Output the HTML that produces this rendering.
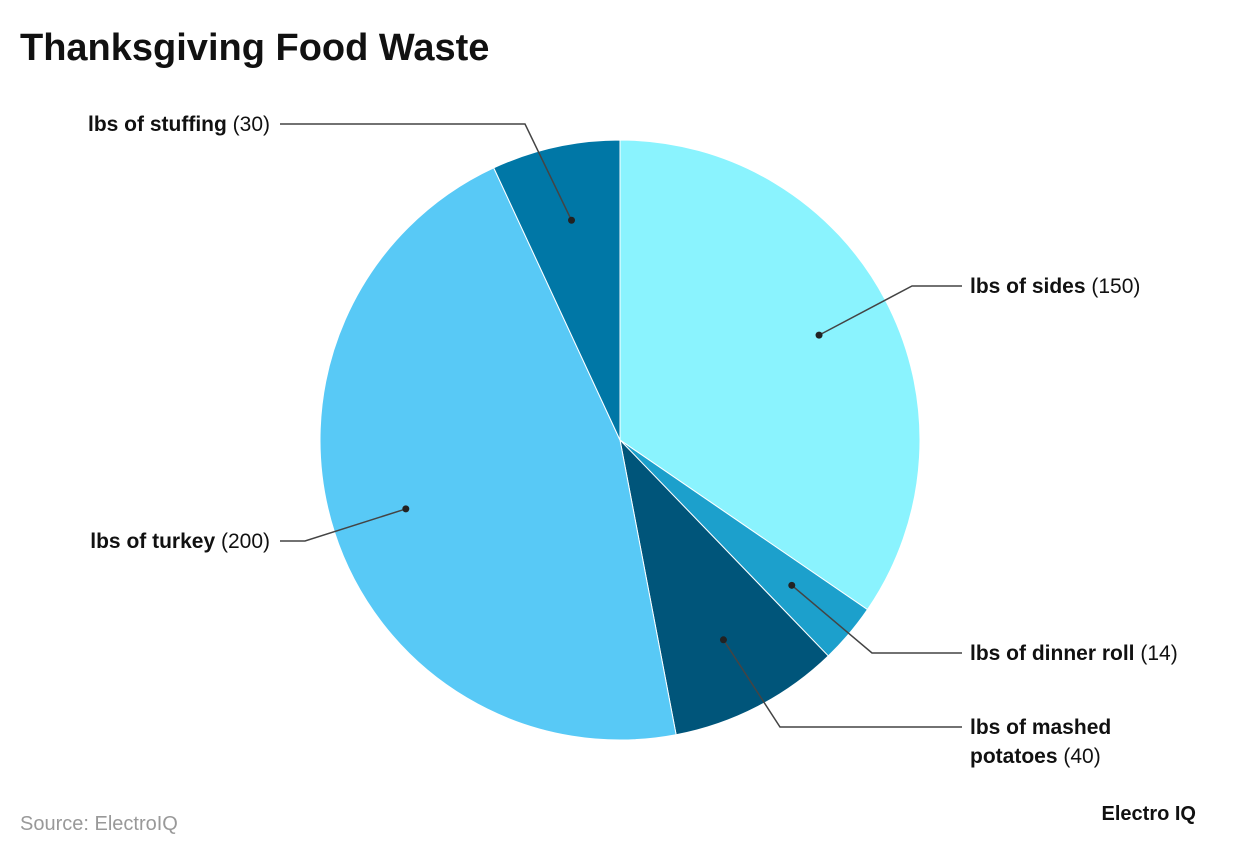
<!DOCTYPE html>
<html><head><meta charset="utf-8"><style>
body{margin:0;background:#fff;width:1240px;height:856px;overflow:hidden;font-family:"Liberation Sans",sans-serif}
</style></head><body>
<svg width="1240" height="856" xmlns="http://www.w3.org/2000/svg">
<text x="20" y="60" font-size="38" font-weight="bold" fill="#111">Thanksgiving Food Waste</text>
<g id="pie"></g>
<g id="labels"></g>
<text x="20" y="830" font-size="20" fill="#999">Source: ElectroIQ</text>
<text x="1196" y="820" font-size="20" font-weight="bold" fill="#111" text-anchor="end">Electro IQ</text>
</svg>
<script>
const categories=["lbs of sides","lbs of dinner roll","lbs of mashed potatoes","lbs of turkey","lbs of stuffing"];
const values=[150,14,40,200,30];
const colors=["#8af3fe","#1ca0cc","#00557a","#58c9f6","#0077a6"];
const NS="http://www.w3.org/2000/svg";
const cx=620,cy=440,R=300;
const total=values.reduce((a,b)=>a+b,0);
function pt(a,r){return [cx+r*Math.sin(a),cy-r*Math.cos(a)];}
const pie=document.getElementById('pie'),lab=document.getElementById('labels');
// label layout: [elbowX, labelY, side]
const layout=[[912,286,1],[872,653,1],[780,727,1],[305,541,-1],[525,124,-1]];
let acc=0;
values.forEach((v,i)=>{
  const a0=acc/total*2*Math.PI; acc+=v; const a1=acc/total*2*Math.PI;
  const p0=pt(a0,R),p1=pt(a1,R);
  const path=document.createElementNS(NS,'path');
  path.setAttribute('d',`M${cx},${cy}L${p0[0]},${p0[1]}A${R},${R} 0 ${a1-a0>Math.PI?1:0} 1 ${p1[0]},${p1[1]}Z`);
  path.setAttribute('fill',colors[i]);path.setAttribute('stroke','#fff');path.setAttribute('stroke-width','1');
  
  
  pie.appendChild(path);
  const d=pt((a0+a1)/2,R*0.75);
  const [ex,ly,side]=layout[i];
  const endX=side>0?962:280;
  const line=document.createElementNS(NS,'polyline');
  line.setAttribute('points',`${d[0]},${d[1]} ${ex},${ly} ${endX},${ly}`);
  line.setAttribute('fill','none');line.setAttribute('stroke','#444');line.setAttribute('stroke-width','1.5');
  
  
  lab.appendChild(line);
  const dot=document.createElementNS(NS,'circle');
  dot.setAttribute('cx',d[0]);dot.setAttribute('cy',d[1]);dot.setAttribute('r','3.5');dot.setAttribute('fill','#222');
  
  
  lab.appendChild(dot);
  const t=document.createElementNS(NS,'text');
  t.setAttribute('font-size','21');t.setAttribute('fill','#111');
  
  
  const tx=side>0?970:270;
  t.setAttribute('text-anchor',side>0?'start':'end');
  const name=categories[i];
  if(name==="lbs of mashed potatoes"){
    t.setAttribute('x',tx);t.setAttribute('y',ly+7);
    const s1=document.createElementNS(NS,'tspan');s1.setAttribute('font-weight','bold');s1.textContent='lbs of mashed';t.appendChild(s1);
    const s2=document.createElementNS(NS,'tspan');s2.setAttribute('x',tx);s2.setAttribute('dy','29');s2.setAttribute('font-weight','bold');s2.textContent='potatoes';t.appendChild(s2);
    const s3=document.createElementNS(NS,'tspan');s3.textContent=' ('+v+')';t.appendChild(s3);
  }else{
    t.setAttribute('x',tx);t.setAttribute('y',ly+7);
    const s1=document.createElementNS(NS,'tspan');s1.setAttribute('font-weight','bold');s1.textContent=name;t.appendChild(s1);
    const s2=document.createElementNS(NS,'tspan');s2.textContent=' ('+v+')';t.appendChild(s2);
  }
  lab.appendChild(t);
});
</script>
</body></html>
